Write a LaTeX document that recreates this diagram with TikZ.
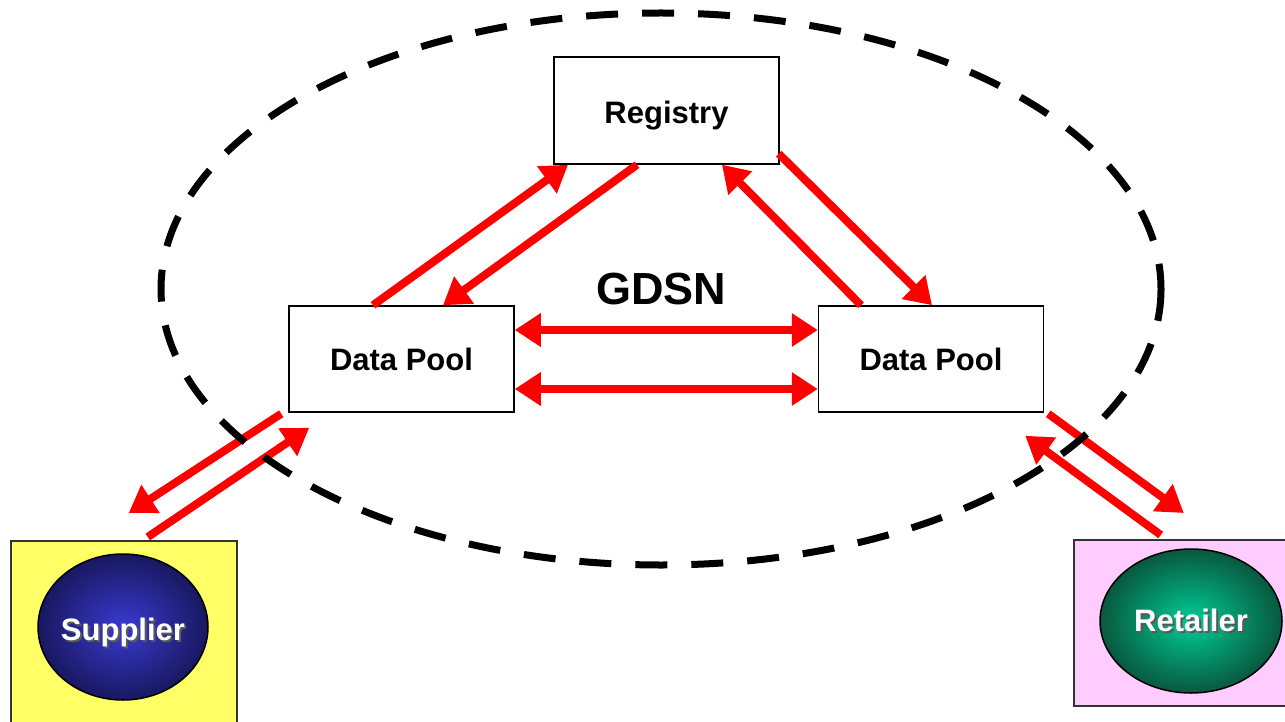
\documentclass[tikz,border=0pt]{standalone}
\usepackage{fontspec}
\setmainfont{Liberation Sans}
\usetikzlibrary{arrows.meta,calc,shapes.geometric}

\definecolor{flowred}{RGB}{255,0,0}
\definecolor{supyellow}{RGB}{255,255,102}
\definecolor{retpink}{RGB}{255,204,255}
\definecolor{supin}{RGB}{58,58,210}
\definecolor{supout}{RGB}{24,24,96}
\definecolor{retin}{RGB}{0,205,150}
\definecolor{retout}{RGB}{8,88,62}

% white label with a small grey drop shadow (zero width, so the oval keeps its size)
\newcommand{\shadowlabel}[1]{\makebox[0pt]{\rlap{\hspace{2pt}\raisebox{-2pt}{\color{black!65}#1}}#1}}

\tikzset{
  poolbox/.style={draw, line width=1.5pt, fill=white, minimum width=225pt, minimum height=106pt,
    font=\fontsize{31}{36}\selectfont\bfseries},
  rolebox/.style={draw=black!80, line width=1.5pt, minimum width=226pt, anchor=north west},
  roleoval/.style={ellipse, draw, line width=1.5pt, text=white, inner sep=0pt,
    font=\fontsize{31}{36}\selectfont\bfseries},
  flow/.style={draw=flowred, line width=8pt, -{Triangle[length=26pt,width=32pt]}},
  twoway/.style={flow, {Triangle[length=26pt,width=32pt]}-{Triangle[length=26pt,width=32pt]}},
}

\begin{document}
\begin{tikzpicture}[x=1pt,y=1pt,yscale=-1,xscale=1]
\useasboundingbox (0,0) rectangle (1285,722);

% boxes of the network
\node[poolbox, minimum height=107pt, text height=25.5pt, text depth=0pt] (reg) at (666.5,110.5) {Registry};
\node[poolbox] (dpl) at (401.5,359) {Data Pool};
\node[poolbox] (dpr) at (931,359) {Data Pool};
\node[font=\fontsize{45}{50}\selectfont\bfseries] (gdsn) at (661,289) {GDSN};

% trading partners
\node[rolebox, fill=supyellow, minimum height=200pt] (supbox) at (10,540) {};
\node[roleoval, shade, inner color=supin, outer color=supout, text height=26pt, text depth=0pt,
      minimum width=170pt, minimum height=146pt] (sup) at (123,627) {\shadowlabel{Supplier}};
\node[rolebox, fill=retpink, minimum width=222pt, minimum height=166pt] (retbox) at (1073,539) {};
\node[roleoval, shade, inner color=retin, outer color=retout,
      minimum width=182pt, minimum height=144pt] (ret) at (1191,621) {\shadowlabel{Retailer}};

% registry links
\draw[flow] ($(dpl.north)+(-28.5,0)$) -- ($(reg.south)+(-98.5,0)$);
\draw[flow] ($(reg.south)+(-29.5,0)$) -- ($(dpl.north)+(41.5,0)$);
\draw[flow] ($(reg.south east)+(-1,-11)$) -- ($(dpr.north)+(1,0)$);
\draw[flow] ($(dpr.north)+(-70,0)$) -- ($(reg.south)+(55.5,0)$);

% pool to pool
\draw[twoway] ($(dpl.east)+(0,-29)$) -- ($(dpr.west)+(0,-29)$);
\draw[twoway] ($(dpl.east)+(0,30)$) -- ($(dpr.west)+(0,30)$);

% supplier and retailer links
\draw[flow] ($(dpl.south west)+(-7,1)$) -- ($(supbox.north)+(5,-27)$);
\draw[flow] ($(supbox.north)+(24,-3)$) -- ($(dpl.south west)+(21,15)$);
\draw[flow] ($(dpr.south east)+(4,1)$) -- ($(retbox.north)+(-1,-26)$);
\draw[flow] ($(retbox.north)+(-24,-4)$) -- ($(dpr.south east)+(-19,23)$);

% network boundary
\draw[line width=7pt, dash pattern=on 32pt off 24pt] (661,289) ellipse [x radius=500, y radius=276];

\end{tikzpicture}
\end{document}
